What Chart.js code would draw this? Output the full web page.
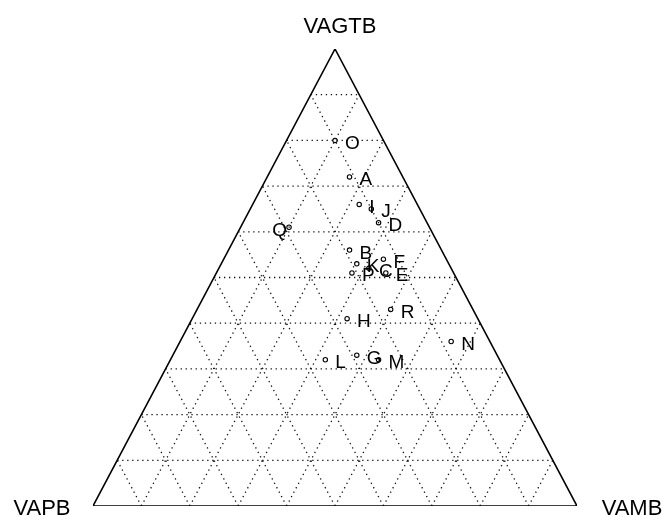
<!DOCTYPE html>
<html>
<head>
<meta charset="utf-8">
<title>VAGTB / VAMB / VAPB</title>
<script src="https://cdn.jsdelivr.net/npm/chart.js@4/dist/chart.umd.min.js"></script>
<style>
    html, body { margin: 0; padding: 0; background: #fff; }
    #ternary { display: block; }
</style>
</head>
<body>
<canvas id="ternary" width="667" height="517"></canvas>
<script>
// composition of each sample, in percent
const labels = ['O', 'A', 'I', 'J', 'D', 'Q', 'B', 'K', 'P', 'C', 'F', 'E', 'H', 'R', 'N', 'L', 'G', 'M'];
const vagtb  = [80, 72, 66, 65, 62, 61, 56, 53, 51, 52, 54, 51, 41, 43, 36, 32, 33, 32];
const vamb   = [10, 17, 22, 25, 28, 10, 25, 28, 28, 31, 33, 35, 32, 40, 56, 32, 38, 43];
const vapb   = [10, 11, 12, 10, 10, 29, 19, 19, 21, 17, 13, 14, 27, 17,  8, 36, 29, 25];

// grid every 10 %
const gridSteps = [0.1, 0.2, 0.3, 0.4, 0.5, 0.6, 0.7, 0.8, 0.9];
const cornerNames = ['VAGTB', 'VAPB', 'VAMB'];

// labels written on the left of their marker
const leftLabels = ['Q'];

// ternary (top, right) -> plane: x along the base, y = height
function toXY(top, right) {
    return { x: right + top / 2, y: top };
}

const datasets = [];

// dotted grid: constant VAGTB, constant VAMB, constant VAPB
gridSteps.forEach(k => {
    const lines = [
        [toXY(k, 0), toXY(k, 1 - k)],
        [toXY(0, k), toXY(1 - k, k)],
        [toXY(0, 1 - k), toXY(1 - k, 0)]
    ];
    lines.forEach(pts => {
        datasets.push({
            data: pts,
            showLine: true,
            borderColor: '#111',
            borderWidth: 1.3,
            borderDash: [1.3, 3.7],
            pointRadius: 0,
            fill: false
        });
    });
});

// outline
datasets.push({
    data: [toXY(0, 0), toXY(0, 1), toXY(1, 0), toXY(0, 0)],
    showLine: true,
    borderColor: '#000',
    borderWidth: 1.6,
    pointRadius: 0,
    fill: false
});

// samples
datasets.push({
    data: labels.map((l, i) => toXY(vagtb[i] / 100, vamb[i] / 100)),
    showLine: false,
    pointRadius: 2.2,
    pointStyle: 'circle',
    pointBorderColor: '#000',
    pointBackgroundColor: '#fff',
    pointBorderWidth: 1.1
});
const sampleIndex = datasets.length - 1;

const textPlugin = {
    id: 'ternaryText',
    afterDatasetsDraw(chart) {
        const ctx = chart.ctx;
        const xs = chart.scales.x, ys = chart.scales.y;
        ctx.save();
        ctx.fillStyle = '#000';
        ctx.textBaseline = 'alphabetic';

        // sample labels
        ctx.font = '19px "Liberation Sans", Arial, sans-serif';
        const meta = chart.getDatasetMeta(sampleIndex);
        meta.data.forEach((pt, i) => {
            if (leftLabels.includes(labels[i])) {
                ctx.textAlign = 'right';
                ctx.fillText(labels[i], pt.x - 2, pt.y + 8.5);
            } else {
                ctx.textAlign = 'left';
                ctx.fillText(labels[i], pt.x + 10, pt.y + 8.5);
            }
        });

        // corner names
        ctx.font = '22px "Liberation Sans", Arial, sans-serif';
        ctx.textAlign = 'center';
        ctx.fillText(cornerNames[0], xs.getPixelForValue(0.5) + 5, ys.getPixelForValue(1) - 16);
        ctx.fillText(cornerNames[1], xs.getPixelForValue(0) - 51, ys.getPixelForValue(0) + 9);
        ctx.fillText(cornerNames[2], xs.getPixelForValue(1) + 55, ys.getPixelForValue(0) + 9);
        ctx.restore();
    }
};

new Chart(document.getElementById('ternary'), {
    type: 'scatter',
    data: { datasets: datasets },
    options: {
        responsive: false,
        animation: false,
        layout: { padding: { left: 93, right: 90, top: 49, bottom: 11 } },
        plugins: {
            legend: { display: false },
            tooltip: { enabled: false }
        },
        scales: {
            x: { type: 'linear', min: 0, max: 1, display: false },
            y: { type: 'linear', min: 0, max: 1, display: false }
        }
    },
    plugins: [textPlugin]
});
</script>
</body>
</html>
